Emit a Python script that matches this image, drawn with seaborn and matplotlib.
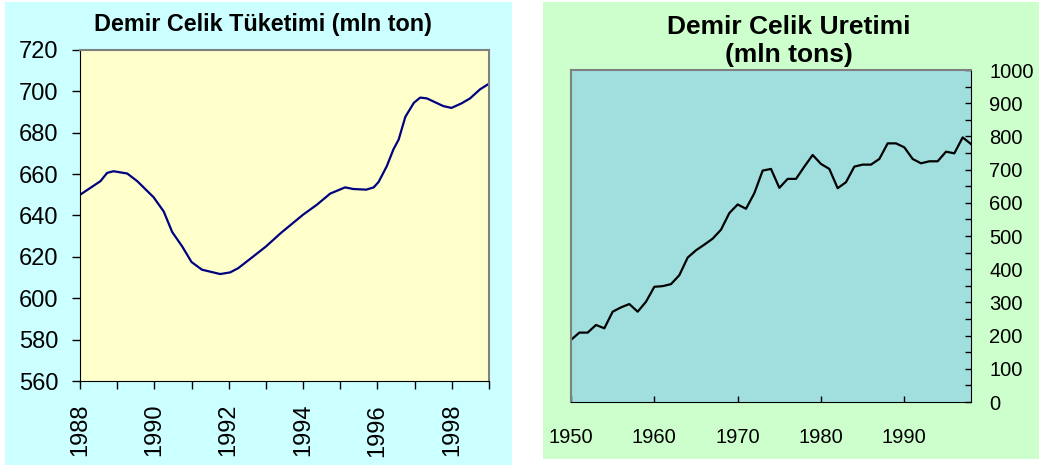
import seaborn as sns
import matplotlib.pyplot as plt
from matplotlib.patches import Rectangle
import pandas as pd

plt.rcParams['font.family'] = ['Liberation Sans', 'DejaVu Sans']

# left chart: consumption
cons_year = [1988.0, 1988.55, 1988.73, 1988.9, 1989.27, 1989.54, 1989.98, 1990.25,
             1990.48, 1990.75, 1991.0, 1991.28, 1991.77, 1992.04, 1992.26, 1992.66,
             1993.0, 1993.4, 1994.0, 1994.37, 1994.73, 1995.13, 1995.35, 1995.7,
             1995.9, 1996.03, 1996.25, 1996.43, 1996.57, 1996.75, 1996.98, 1997.15,
             1997.33, 1997.77, 1997.99, 1998.26, 1998.49, 1998.76, 1999.0]
cons_val = [650, 656.6, 660.6, 661.4, 660.3, 656.6, 648.8, 642,
            632, 625, 617.5, 613.8, 611.7, 612.5, 614.6, 620.2,
            625, 631.5, 640.4, 645.2, 650.6, 653.6, 652.8, 652.5,
            653.6, 656.2, 663.8, 672, 676.7, 687.7, 694.5, 697,
            696.6, 692.9, 692, 694.2, 696.6, 701, 703.7]

# right chart: production 1950-1998
prod_year = list(range(1950, 1999))
prod_val = [187, 209, 209, 232, 222, 272, 285, 295, 272, 302,
            347, 349, 355, 382, 435, 457, 474, 492, 519, 569,
            595, 582, 629, 697, 702, 645, 672, 672, 709, 744,
            717, 702, 644, 662, 709, 715, 715, 732, 779, 779,
            767, 732, 719, 725, 725, 754, 749, 797, 777]

left_ticks = list(range(1988, 2000))
left_labels = [str(y) if y % 2 == 0 else '' for y in left_ticks]
right_xticks = [1950, 1960, 1970, 1980, 1990]

df_cons = pd.DataFrame({'year': cons_year, 'value': cons_val})
df_prod = pd.DataFrame({'year': prod_year, 'value': prod_val})

W, H = 1039, 465
fig = plt.figure(figsize=(W / 100, H / 100), dpi=100)
fig.patch.set_facecolor('white')

# panel backgrounds
fig.patches.append(Rectangle((5 / W, 0), (512 - 5) / W, (465 - 2) / H,
                             transform=fig.transFigure, facecolor='#CCFFFF',
                             edgecolor='none', zorder=-10))
fig.patches.append(Rectangle((543 / W, (465 - 459) / H), (W - 543) / W, (459 - 2) / H,
                             transform=fig.transFigure, facecolor='#CCFFCC',
                             edgecolor='none', zorder=-10))

# ---- left chart
ax1 = fig.add_axes([80 / W, (H - 381) / H, 409 / W, 331 / H])
ax1.set_facecolor('#FFFFCC')
sns.lineplot(data=df_cons, x='year', y='value', ax=ax1, color='#000080', linewidth=1.6)
ax1.set_xlim(1988, 1999)
ax1.set_ylim(560, 720)
ax1.set_yticks(range(560, 721, 20))
ax1.set_xticks(left_ticks)
ax1.set_xticklabels(left_labels, rotation=90)
ax1.tick_params(axis='both', labelsize=17, length=5.5, width=1, direction='out')
ax1.tick_params(axis='y', pad=10)
ax1.tick_params(axis='x', pad=11)
ax1.set_xlabel('')
ax1.set_ylabel('')
for s in ['left', 'bottom']:
    ax1.spines[s].set_color('black')
for s in ['top', 'right']:
    ax1.spines[s].set_color('#808080')
    ax1.spines[s].set_linewidth(1.5)
fig.text(263 / W, 1 - 25 / H, 'Demir Celik Tüketimi (mln ton)', ha='center', va='center',
         fontsize=16.8, fontweight='bold')

# ---- right chart
ax2 = fig.add_axes([571 / W, (H - 402) / H, 400 / W, 332 / H])
ax2.set_facecolor('#A1DFDF')
sns.lineplot(data=df_prod, x='year', y='value', ax=ax2, color='black', linewidth=1.6)
ax2.set_xlim(1950, 1998)
ax2.set_ylim(0, 1000)
ax2.set_yticks(range(0, 1001, 100))
ax2.set_yticks(range(50, 1000, 100), minor=True)
ax2.set_xticks(right_xticks)
ax2.yaxis.tick_right()
ax2.tick_params(axis='y', which='both', direction='in', length=4, width=1, pad=13, labelsize=14.5)
ax2.tick_params(axis='x', direction='in', length=4, width=1, pad=19, labelsize=14.5)
ax2.set_xlabel('')
ax2.set_ylabel('')
for s in ['right', 'bottom']:
    ax2.spines[s].set_color('black')
for s in ['left', 'top']:
    ax2.spines[s].set_color('#808080')
    ax2.spines[s].set_linewidth(1.5)
fig.text(789 / W, 1 - 41 / H, 'Demir Celik Uretimi\n(mln tons)', ha='center', va='center',
         fontsize=19, fontweight='bold', linespacing=1.25)

plt.savefig('out.png', dpi=100)
